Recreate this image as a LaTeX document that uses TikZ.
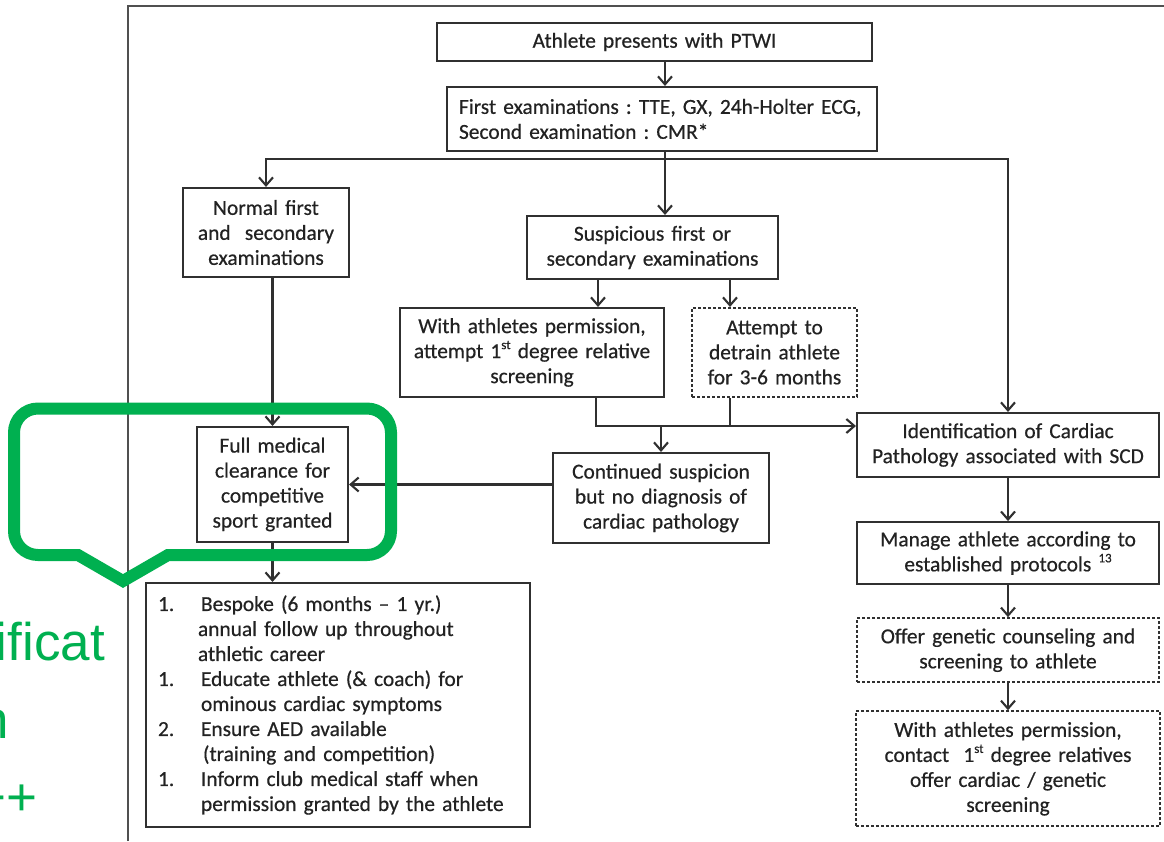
\documentclass[tikz,border=0pt]{standalone}
\usepackage{fontspec}
\setmainfont{Carlito}[FakeBold=0.5]
\newfontfamily\slidefont{Liberation Sans}
\usetikzlibrary{positioning, arrows.meta, calc}
\definecolor{boxline}{HTML}{303030}
\definecolor{boxtext}{HTML}{222222}
\definecolor{slidegreen}{HTML}{00B050}
\definecolor{panelline}{HTML}{505050}
\newcommand{\chart}{\fontsize{21.4}{25}\selectfont}
\newcommand{\listno}[1]{\makebox[43pt][l]{#1}}
\newcommand{\sups}[1]{\raisebox{0.42em}{\fontsize{13}{13}\selectfont #1}}
\frenchspacing

\begin{document}
\begin{tikzpicture}[x=1pt, y=-1pt, >={Straight Barb[length=8pt,width=14pt]},
    font=\chart, text=boxtext,
    box/.style ={draw=boxline, line width=2.1pt, align=center, inner sep=0pt},
    dbox/.style={box, dash pattern=on 3pt off 2pt},
    line/.style={draw=boxline, line width=2.1pt},
    arr/.style ={line, ->},
    callout/.style={draw=slidegreen, line width=12pt},
    slide/.style={font=\slidefont\fontsize{53}{60}\selectfont, text=slidegreen, inner sep=0pt}]
    \clip (0,0) rectangle (1164,841);
    \fill[white] (0,0) rectangle (1164,841);
    % slide text left of the panel
    \node[slide, anchor=base east] (word1) at (105,660) {ificat};
    \node[slide, anchor=base east] (word2) at (9.5,738) {n};
    \node[slide, anchor=base east] (word3) at (38,815) {++};
    \draw[panelline, line width=1.5pt] (128,841) -- (128,6) -- (1164,6);
    % top
    \node[box, text width=435pt, minimum height=38pt] (present) at (654.5,42) {Athlete presents with PTWI};
    \node[box, text width=406pt, inner xsep=12pt, minimum height=64pt, align=left] (exams) at (662,119)
      {First examinations : TTE, GX, 24h-Holter ECG,\\Second examination : CMR*};
    % left and middle branches
    \node[box, text width=166pt, minimum height=89pt] (normal) at (266,232.5) {Normal first\\and\ \ secondary\\examinations};
    \node[box, text width=251pt, minimum height=63pt] (suspicious) at (652.5,247.5) {Suspicious first or\\secondary examinations};
    \node[box, text width=264pt, minimum height=89pt] (relscreen) at (532,352.5)
      {With athletes permission,\\attempt 1\sups{st} degree relative\\screening};
    \node[dbox, text width=165pt, minimum height=89pt] (detrain) at (774.5,352.5) {Attempt to\\detrain athlete\\for 3-6 months};
    \node[box, text width=216pt, minimum height=90pt] (continued) at (661,498) {Continued suspicion\\but no diagnosis of\\cardiac pathology};
    \node[box, text width=151pt, minimum height=115pt] (clearance) at (272.5,484.5) {Full medical\\clearance for\\competitive\\sport granted};
    \node[box, text width=360pt, inner xsep=12pt, minimum height=244pt, align=left] (followup) at (338,705)
      {\listno{1.}Bespoke (6 months -- 1 yr.)\\
       \hspace*{40pt}annual follow up throughout\\
       \hspace*{40pt}athletic career\\
       \listno{1.}Educate athlete (\& coach) for\\
       \hspace*{43pt}ominous cardiac symptoms\\
       \listno{2.}Ensure AED available\\
       \hspace*{45pt}(training and competition)\\
       \listno{1.}Inform club medical staff when\\
       \hspace*{43pt}permission granted by the athlete};
    % right column
    \node[box, text width=302pt, minimum height=64pt] (ident) at (1008,445) {Identification of Cardiac\\Pathology associated with SCD};
    \node[box, text width=302pt, minimum height=62pt, below=43pt of ident] (manage) {Manage athlete according to\\established protocols \sups{13}};
    \node[dbox, text width=302pt, minimum height=64pt, below=32pt of manage] (genetic) {Offer genetic counseling and\\screening to athlete};
    \node[dbox, text width=304pt, minimum height=115pt, below=27pt of genetic] (relatives)
      {With athletes permission,\\contact\ \ 1\sups{st} degree relatives\\offer cardiac / genetic\\screening};
    % connectors
    \coordinate (split) at (665,159);
    \coordinate (mergey) at (0,426);
    \draw[arr] (present.south -| split) -- (exams.north -| split);
    \draw[line] (exams.south -| split) -- (split);
    \draw[arr] (split) -| (normal.north);
    \draw[arr] (split) -- (suspicious.north -| split);
    \draw[arr] (split) -| (ident.north);
    \draw[arr] ([xshift=-54.5pt]suspicious.south) -- ([xshift=-54.5pt]suspicious.south |- relscreen.north);
    \draw[arr] ([xshift=77.5pt]suspicious.south) -- ([xshift=77.5pt]suspicious.south |- detrain.north);
    \draw[arr] ([xshift=64pt]relscreen.south) |- (mergey -| ident.west);
    \draw[line] ([xshift=-44.5pt]detrain.south) -- ([xshift=-44.5pt]detrain.south |- mergey);
    \draw[arr] (continued.north |- mergey) -- (continued.north);
    \draw[arr] (clearance.east -| continued.west) -- (clearance.east);
    \draw[arr] (normal.south -| clearance.north) -- (clearance.north);
    \draw[arr] (clearance.south) -- (clearance.south |- followup.north);
    \draw[arr] (ident) -- (manage);
    \draw[arr] (manage) -- (genetic);
    \draw[arr] (genetic) -- (relatives);
    % green callout over the panel
    \draw[callout] (123,581) -- (168,555) [rounded corners=24pt] -- (391,555) -- (391,408.5) -- (14,408.5) -- (14,555) [sharp corners] -- (78,555) -- cycle;
\end{tikzpicture}
\end{document}
